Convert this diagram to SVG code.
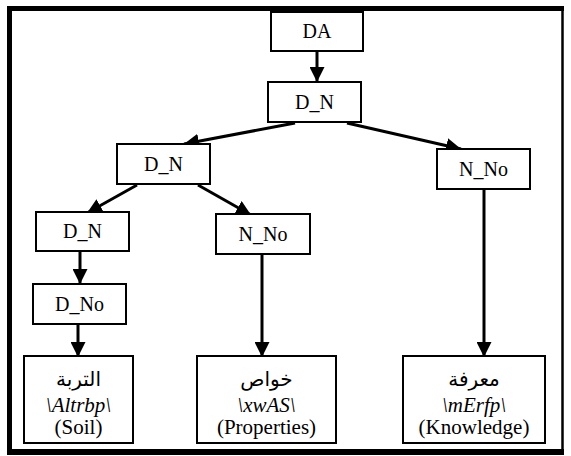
<svg xmlns="http://www.w3.org/2000/svg" width="571" height="456" viewBox="0 0 571 456">
  <style>
    .box { fill: #ffffff; stroke: #000000; stroke-width: 2; }
    .lbl { font-family: "Liberation Serif", "Times New Roman", serif; font-size: 20px; fill: #000000; text-anchor: middle; }
    .big { font-size: 21px; }
    .ar { font-family: "Liberation Serif", "DejaVu Sans", serif; font-size: 20px; fill: #000000; text-anchor: middle; }
    .it { font-style: italic; }
    .edge { stroke: #000000; stroke-width: 3; fill: none; marker-end: url(#head); }
  </style>
  <defs>
    <marker id="head" markerUnits="userSpaceOnUse" markerWidth="15" markerHeight="15" refX="15" refY="7.5" orient="auto">
      <path d="M0,0 L15,7.5 L0,15 z" fill="#000000"/>
    </marker>
  </defs>

  <!-- page frame: heavy rule left/top/bottom, lighter rule on the right -->
  <g id="frame">
    <rect x="0" y="0" width="571" height="456" fill="#ffffff"/>
    <rect x="7" y="6" width="557" height="5" fill="#000000"/>
    <rect x="7" y="6" width="5" height="449" fill="#000000"/>
    <rect x="7" y="449" width="557" height="6" fill="#000000"/>
    <line x1="562.5" y1="6" x2="562.5" y2="455" stroke="#000000" stroke-width="2.5"/>
  </g>

  <!-- connectors -->
  <g id="edges">
    <line class="edge" x1="317" y1="51" x2="317" y2="82"/>
    <line class="edge" x1="295" y1="123" x2="184" y2="144"/>
    <line class="edge" x1="347" y1="123" x2="461" y2="149"/>
    <line class="edge" x1="137" y1="185" x2="87" y2="213"/>
    <line class="edge" x1="198" y1="185" x2="251" y2="215"/>
    <line class="edge" x1="80" y1="252" x2="80" y2="284"/>
    <line class="edge" x1="78" y1="325" x2="78" y2="357"/>
    <line class="edge" x1="262" y1="255" x2="262" y2="357"/>
    <line class="edge" x1="484" y1="190" x2="484" y2="357"/>
  </g>

  <g id="n-da">
    <rect class="box" x="271" y="12" width="92" height="39"/>
    <text class="lbl" x="317" y="38">DA</text>
  </g>
  <g id="n-dn-root">
    <rect class="box" x="268" y="82" width="93" height="40"/>
    <text class="lbl" x="314.5" y="109">D_N</text>
  </g>
  <g id="n-dn-left">
    <rect class="box" x="117" y="144" width="93" height="40"/>
    <text class="lbl" x="163.5" y="171">D_N</text>
  </g>
  <g id="n-nno-right">
    <rect class="box" x="437" y="149" width="93" height="40"/>
    <text class="lbl" x="483.5" y="176">N_No</text>
  </g>
  <g id="n-dn-low">
    <rect class="box" x="36" y="212" width="93" height="39"/>
    <text class="lbl" x="82.5" y="238">D_N</text>
  </g>
  <g id="n-nno-mid">
    <rect class="box" x="216" y="214" width="94" height="40"/>
    <text class="lbl" x="263" y="241">N_No</text>
  </g>
  <g id="n-dno">
    <rect class="box" x="33" y="284" width="93" height="40"/>
    <text class="lbl" x="79.5" y="311">D_No</text>
  </g>
  <g id="n-soil">
    <rect class="box" x="24" y="356" width="109" height="87"/>
    <text class="ar" x="78.5" y="386" direction="rtl">التربة</text>
    <text class="lbl big it" x="78.5" y="412">\Altrbp\</text>
    <text class="lbl big" x="78.5" y="434">(Soil)</text>
  </g>
  <g id="n-properties">
    <rect class="box" x="197" y="356" width="139" height="87"/>
    <text class="ar" x="266.5" y="386" direction="rtl">خواص</text>
    <text class="lbl big it" x="266.5" y="412">\xwAS\</text>
    <text class="lbl big" x="266.5" y="434">(Properties)</text>
  </g>
  <g id="n-knowledge">
    <rect class="box" x="403" y="356" width="142" height="87"/>
    <text class="ar" x="474" y="386" direction="rtl">معرفة</text>
    <text class="lbl big it" x="474" y="412">\mErfp\</text>
    <text class="lbl big" x="474" y="434">(Knowledge)</text>
  </g>
</svg>
